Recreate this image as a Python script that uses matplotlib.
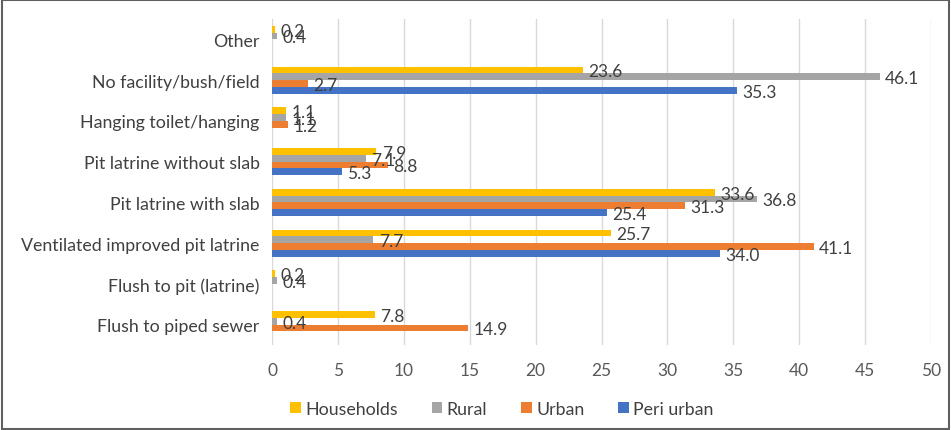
import numpy as np
import matplotlib
matplotlib.use("Agg")
import matplotlib.pyplot as plt
from matplotlib.patches import Rectangle

categories = ["Other", "No facility/bush/field", "Hanging toilet/hanging",
              "Pit latrine without slab", "Pit latrine with slab",
              "Ventilated improved pit latrine", "Flush to pit (latrine)",
              "Flush to piped sewer"]
series_names = ["Households", "Rural", "Urban", "Peri urban"]
households = [0.2, 23.6, 1.1, 7.9, 33.6, 25.7, 0.2, 7.8]
rural = [0.4, 46.1, 1.1, 7.1, 36.8, 7.7, 0.4, 0.4]
urban = [None, 2.7, 1.2, 8.8, 31.3, 41.1, None, 14.9]
peri_urban = [None, 35.3, None, 5.3, 25.4, 34.0, None, None]
colors = ["#FFC000", "#A5A5A5", "#ED7D31", "#4472C4"]
xticks = [0, 5, 10, 15, 20, 25, 30, 35, 40, 45, 50]

plt.rcParams['font.family'] = ['Lato', 'DejaVu Sans']

fig = plt.figure(figsize=(9.51, 4.31), dpi=100)
ax = fig.add_axes([272/951, 1-346/431, (931-272)/951, (346-20)/431])

data = [households, rural, urban, peri_urban]
n = len(categories)
y = np.arange(n)
bh = 0.165
for i, (vals, c, name) in enumerate(zip(data, colors, series_names)):
    offs = (i - 1.5) * bh
    vv = [v if v is not None else 0 for v in vals]
    ax.barh(y + offs, vv, height=bh, color=c, label=name)
    for yy, v in zip(y + offs, vals):
        if v is None:
            continue
        ax.annotate(f"{v:.1f}", (v, yy), xytext=(4, -1), textcoords="offset points",
                    va="center", ha="left", fontsize=12.5, color="#404040")

ax.set_ylim(n - 0.5, -0.5)
ax.set_xlim(0, 50)
ax.set_xticks(xticks)
ax.set_yticks(y)
ax.set_yticklabels(categories, fontsize=12.8, color="#404040")
ax.tick_params(axis='x', labelsize=12.5, colors="#595959", length=0, pad=12)
ax.tick_params(axis='y', length=0, pad=9)
ax.grid(axis='x', color="#D9D9D9", linewidth=1)
ax.set_axisbelow(True)
for s in ax.spines.values():
    s.set_visible(False)

leg = fig.legend(loc="center", bbox_to_anchor=(502/951, 1-410/431), ncol=4, frameon=False,
                 fontsize=12.8, handlelength=0.6, handleheight=0.6, handletextpad=0.25,
                 columnspacing=1.9)
for t in leg.get_texts():
    t.set_color("#404040")

fig.patches.append(Rectangle((0.002, 0.003), 0.996, 0.994, transform=fig.transFigure,
                             fill=False, edgecolor="#606060", linewidth=1.5))

fig.savefig("out.png", dpi=100)
